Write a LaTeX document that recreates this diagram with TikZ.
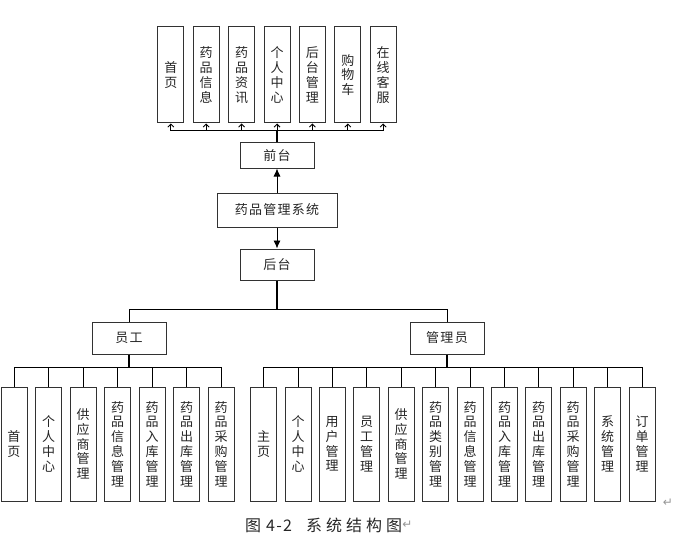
\documentclass[tikz,border=0pt]{standalone}
\usepackage{fontspec}
\newfontfamily\cjk[LetterSpace=10]{Noto Sans CJK SC}
\newfontfamily\capfont[LetterSpace=25]{Noto Sans CJK SC}
\newfontfamily\numfont[LetterSpace=8]{Noto Sans CJK SC}
\newfontfamily\symb{DejaVu Sans}
\usetikzlibrary{arrows.meta}
\definecolor{edge}{RGB}{50,50,50}
\definecolor{mark}{RGB}{150,150,150}

\begin{document}
\begin{tikzpicture}[x = 1pt, y = -1pt,
	box/.style = {draw = edge, line width = 1pt, fill = white, inner sep = 0pt, align = center, text = black!85, font = \cjk\fontsize{13}{14.8}\selectfont},
	hbox/.style = {box, minimum width = 74pt, minimum height = 31pt},
	vtop/.style = {box, minimum width = 26pt, minimum height = 96pt},
	vbot/.style = {box, minimum width = 26pt, minimum height = 114pt},
	wire/.style = {draw = black, line width = 0.9pt},
	trunk/.style = {draw = black, line width = 1.6pt},
	up/.style = {wire, -{Straight Barb[length = 3pt, width = 6pt]}},
	bus/.style = {to path = {-| (\tikztotarget)}}]
	\useasboundingbox (0,0) rectangle (681,535);

	% front end
	\node[vtop] (f1) at (170.8,75) {首\\页};
	\node[vtop] (f2) at (206.2,75) {药\\品\\信\\息};
	\node[vtop] (f3) at (241.6,75) {药\\品\\资\\讯};
	\node[vtop] (f4) at (277,75) {个\\人\\中\\心};
	\node[vtop] (f5) at (312.4,75) {后\\台\\管\\理};
	\node[vtop] (f6) at (347.8,75) {购\\物\\车};
	\node[vtop] (f7) at (383.2,75) {在\\线\\客\\服};

	\node[hbox, minimum height = 25pt] (qt) at (277,155.5) {前台};
	\node[hbox, minimum width = 120pt, minimum height = 34pt] (sys) at (277,210) {药品管理系统};
	\node[hbox] (ht) at (277,264.5) {后台};

	\node[hbox, minimum height = 32pt] (yg) at (129,338) {员工};
	\node[hbox, minimum height = 32pt] (gly) at (447,338) {管理员};

	% staff
	\node[vbot] (e1) at (14,444) {首\\页};
	\node[vbot] (e2) at (48.5,444) {个\\人\\中\\心};
	\node[vbot] (e3) at (83,444) {供\\应\\商\\管\\理};
	\node[vbot] (e4) at (117.5,444) {药\\品\\信\\息\\管\\理};
	\node[vbot] (e5) at (152,444) {药\\品\\入\\库\\管\\理};
	\node[vbot] (e6) at (186.5,444) {药\\品\\出\\库\\管\\理};
	\node[vbot] (e7) at (221,444) {药\\品\\采\\购\\管\\理};

	% admin
	\node[vbot] (m1) at (263.5,444) {主\\页};
	\node[vbot] (m2) at (298,444) {个\\人\\中\\心};
	\node[vbot] (m3) at (332,444) {用\\户\\管\\理};
	\node[vbot] (m4) at (366.5,444) {员\\工\\管\\理};
	\node[vbot] (m5) at (401,444) {供\\应\\商\\管\\理};
	\node[vbot] (m6) at (435.5,444) {药\\品\\类\\别\\管\\理};
	\node[vbot] (m7) at (470,444) {药\\品\\信\\息\\管\\理};
	\node[vbot] (m8) at (504.5,444) {药\\品\\入\\库\\管\\理};
	\node[vbot] (m9) at (538.5,444) {药\\品\\出\\库\\管\\理};
	\node[vbot] (m10) at (573,444) {药\\品\\采\\购\\管\\理};
	\node[vbot] (m11) at (607.5,444) {系\\统\\管\\理};
	\node[vbot] (m12) at (642,444) {订\\单\\管\\理};

	% connectors
	\draw[trunk] (qt.north) -- ++(0,-12) coordinate (topbus);
	\path (topbus) edge[up, bus] (f1.south) edge[up, bus] (f2.south) edge[up, bus] (f3.south) edge[up] (f4.south)
		edge[up, bus] (f5.south) edge[up, bus] (f6.south) edge[up, bus] (f7.south);
	\draw[wire, -{Latex[length = 8pt, width = 7pt]}] (sys.north) -- (qt.south);
	\draw[wire, -{Latex[length = 8pt, width = 7pt]}] (sys.south) -- (ht.north);

	\draw[trunk] (ht.south) -- ++(0,29) coordinate (midbus);
	\path (midbus) edge[wire, bus] (yg.north) edge[wire, bus] (gly.north);

	\draw[trunk] (yg.south) -- ++(0,13) coordinate (ygbus);
	\path (ygbus) edge[wire, bus] (e1.north) edge[wire, bus] (e2.north) edge[wire, bus] (e3.north) edge[wire, bus] (e4.north)
		edge[wire, bus] (e5.north) edge[wire, bus] (e6.north) edge[wire, bus] (e7.north);

	\draw[trunk] (gly.south) -- ++(0,13) coordinate (glybus);
	\path (glybus) edge[wire, bus] (m1.north) edge[wire, bus] (m2.north) edge[wire, bus] (m3.north) edge[wire, bus] (m4.north)
		edge[wire, bus] (m5.north) edge[wire, bus] (m6.north) edge[wire, bus] (m7.north) edge[wire, bus] (m8.north)
		edge[wire, bus] (m9.north) edge[wire, bus] (m10.north) edge[wire, bus] (m11.north) edge[wire, bus] (m12.north);

	% caption
	\node[anchor = west, inner sep = 0pt, font = \capfont\fontsize{16}{18}\selectfont, text = black!85] (cap) at (245,525)
		{图\hspace{5pt}{\numfont 4-2}\hspace{14pt}系统结构图};
	\node[anchor = west, inner sep = 0pt, font = \symb\fontsize{12}{14}\selectfont, text = mark] (capmark) at (cap.east) {↵};
	\node[inner sep = 0pt, font = \symb\fontsize{12}{14}\selectfont, text = mark] (boxmark) at (668,503) {↵};
\end{tikzpicture}
\end{document}
